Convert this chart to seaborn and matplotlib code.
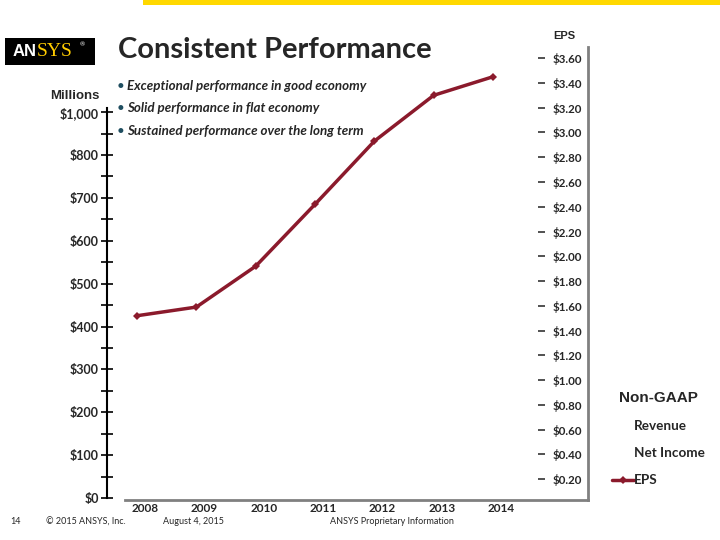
import pandas
import numpy
import matplotlib.pyplot as plt
import matplotlib.transforms as mtransforms
from matplotlib.lines import Line2D
from matplotlib.patches import Rectangle
import seaborn

# dados do grafico
years = ['2008', '2009', '2010', '2011', '2012', '2013', '2014']
eps = [1.52, 1.59, 1.92, 2.42, 2.93, 3.30, 3.45]

revenue_ticks = [0, 100, 200, 300, 400, 500, 600, 700, 800, 900]
revenue_labels = ['$0', '$100', '$200', '$300', '$400', '$500', '$600', '$700', '$800', '$1,000']
eps_ticks = [0.2, 0.4, 0.6, 0.8, 1.0, 1.2, 1.4, 1.6, 1.8, 2.0, 2.2, 2.4, 2.6, 2.8, 3.0, 3.2, 3.4, 3.6]

bullets = ['Exceptional performance in good economy',
           'Solid performance in flat economy',
           'Sustained performance over the long term']
legend_labels = ['Revenue', 'Net Income', 'EPS']

line_color = '#8B1A2C'

seaborn.set_theme(style='white')
plt.rcParams['font.family'] = ['Lato', 'DejaVu Sans']

fig = plt.figure(figsize=(7.2, 5.4), dpi=100)
ax = fig.add_axes([107 / 720, 40 / 540, 481 / 720, 453 / 540])
ax2 = ax.twinx()

df = pandas.DataFrame({'Year': years, 'EPS': eps})
seaborn.lineplot(x='Year', y='EPS', data=df, ax=ax2, color=line_color, linewidth=2.5,
                 marker='D', markersize=4.5, markeredgewidth=0, sort=False)

# eixo da esquerda (milhoes)
ax.set_xlim(-0.506, 7.6)
ax.set_ylim(-4.7, 1052)
ax.set_yticks(revenue_ticks)
ax.set_yticklabels(revenue_labels)
ax.set_yticks([t + 50 for t in revenue_ticks[:-1]], minor=True)
ax.tick_params(axis='y', which='both', left=True, direction='inout', length=8, width=1.2,
               color='black', labelsize=9, pad=2)
for lbl in ax.get_yticklabels():
    lbl.set_fontweight('bold')
ax.spines['left'].set_color('black')
ax.spines['left'].set_linewidth(1.5)
ax.spines['left'].set_bounds(0, 910)
ax.spines['top'].set_visible(False)
ax.spines['right'].set_color('#808080')
ax.spines['right'].set_linewidth(2)
ax.spines['bottom'].set_color('#808080')
ax.spines['bottom'].set_linewidth(2)
ax.spines['bottom'].set_bounds(-0.2, 7.6)

ax.set_xticks(range(len(years)))
ax.set_xticklabels(years)
ax.tick_params(axis='x', length=0, labelsize=8.5, pad=2)
offset = mtransforms.ScaledTranslation(0.08, 0, fig.dpi_scale_trans)
for lbl in ax.get_xticklabels():
    lbl.set_fontweight('bold')
    lbl.set_transform(lbl.get_transform() + offset)
ax.set_xlabel('')
ax.set_ylabel('')

# eixo da direita (EPS)
ax2.set_ylim(0.032, 3.69)
ax2.set_yticks(eps_ticks)
ax2.set_yticklabels(['${:.2f}'.format(v) for v in eps_ticks])
ax2.spines['right'].set_position(('axes', (538 - 107) / 481))
for s in ['right', 'left', 'top', 'bottom']:
    ax2.spines[s].set_color('none')
ax2.tick_params(axis='y', right=True, direction='out', length=5, width=1.2, color='#333333',
                labelsize=8.3, pad=5.5)
for lbl in ax2.get_yticklabels():
    lbl.set_fontweight('bold')
ax2.set_ylabel('')
ax2.grid(False)
ax.grid(False)

# legenda
handles = [Line2D([], [], color='none'), Line2D([], [], color='none'),
           Line2D([], [], color=line_color, linewidth=2.5, marker='D', markersize=4.5,
                  markeredgewidth=0)]
leg = ax2.legend(handles, legend_labels, title='Non-GAAP', loc='upper left',
                 bbox_to_anchor=(612 / 720, 1 - 391 / 540), bbox_transform=fig.transFigure,
                 frameon=False, fontsize=9.7, handlelength=1.6, handletextpad=0.05,
                 labelspacing=1.12, borderpad=0, borderaxespad=0)
leg.get_title().set_fontweight('bold')
leg.get_title().set_fontsize(11)
leg.get_title().set_family(['Liberation Sans', 'DejaVu Sans'])
for t in leg.get_texts():
    t.set_fontweight('bold')

# titulos dos eixos
fig.text(75 / 720, 1 - 96 / 540, 'Millions', ha='center', va='center', fontsize=9.5,
         fontweight='bold', family=['Liberation Sans', 'DejaVu Sans'])
fig.text(564 / 720, 1 - 36 / 540, 'EPS', ha='center', va='center', fontsize=8,
         fontweight='bold', family=['Liberation Sans', 'DejaVu Sans'])

# cabecalho do slide
fig.add_artist(Rectangle((143 / 720, 1 - 5 / 540), 577 / 720, 5 / 540,
                         transform=fig.transFigure, color='#FFD800', lw=0))
fig.add_artist(Rectangle((5 / 720, 1 - 65 / 540), 90 / 720, 27 / 540,
                         transform=fig.transFigure, color='black', lw=0))
fig.text(13 / 720, 1 - 52 / 540, 'AN', color='white', fontsize=12, fontweight='bold',
         va='center', family=['Liberation Sans Narrow', 'Liberation Sans', 'DejaVu Sans'], zorder=5)
fig.text(37 / 720, 1 - 52 / 540, 'SYS', color='#FFCC00', fontsize=14, va='center',
         family=['Liberation Serif', 'DejaVu Serif'], zorder=5)
fig.text(80 / 720, 1 - 45 / 540, '\u00ae', color='white', fontsize=4.5, va='center', zorder=5)
fig.text(118 / 720, 1 - 50 / 540, 'Consistent Performance', fontsize=21, fontweight='bold',
         va='center')
for i, b in enumerate(bullets):
    y = 1 - (86 + i * 22.5) / 540
    fig.text(117 / 720, y, '\u2022', color='#1F4E60', fontsize=9.6, va='center')
    fig.text(127 / 720, y, b, fontsize=9.6, fontweight='bold', style='italic', va='center')

# rodape
fig.text(10 / 720, 1 - 522 / 540, '14', fontsize=6.5, va='center')
fig.text(46 / 720, 1 - 522 / 540, '\u00a9 2015 ANSYS, Inc.', fontsize=6.5, va='center')
fig.text(163 / 720, 1 - 522 / 540, 'August 4, 2015', fontsize=6.5, va='center')
fig.text(330 / 720, 1 - 522 / 540, 'ANSYS Proprietary Information', fontsize=6.5, va='center')

plt.savefig('out.png', dpi=100)
